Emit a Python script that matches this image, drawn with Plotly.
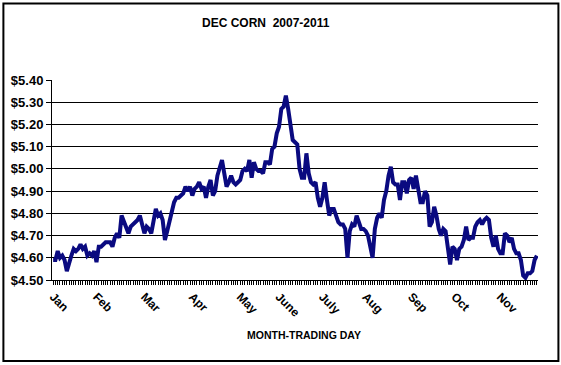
import plotly.graph_objects as go

# Daily settlement prices (USD/bu)
prices_jan_apr = [4.59, 4.59, 4.63, 4.60, 4.61, 4.59, 4.54, 4.58, 4.61, 4.64, 4.63, 4.64, 4.66, 4.64,
                  4.65, 4.61, 4.62, 4.61, 4.63, 4.58, 4.65, 4.65, 4.66, 4.67, 4.67, 4.67, 4.65, 4.69,
                  4.71, 4.69, 4.79, 4.76, 4.74, 4.71, 4.74, 4.75, 4.76, 4.77, 4.79, 4.75, 4.71, 4.74,
                  4.73, 4.71, 4.78, 4.82, 4.79, 4.80, 4.77, 4.68, 4.72, 4.76, 4.81, 4.85, 4.87, 4.87,
                  4.88, 4.89, 4.92, 4.90, 4.92, 4.88, 4.91, 4.92, 4.94, 4.91, 4.92, 4.87, 4.92]
prices_may_aug = [4.95, 4.88, 4.90, 4.97, 5.01, 5.04, 4.98, 4.92, 4.94, 4.97, 4.94, 4.93, 4.94, 4.95,
                  4.99, 5.00, 4.99, 5.04, 4.96, 5.03, 5.00, 4.99, 4.99, 4.98, 5.03, 5.03, 5.02, 5.09,
                  5.10, 5.16, 5.19, 5.27, 5.28, 5.33, 5.27, 5.20, 5.13, 5.12, 5.11, 5.00, 4.96, 4.96,
                  5.07, 4.98, 4.94, 4.93, 4.94, 4.87, 4.83, 4.87, 4.94, 4.86, 4.79, 4.82, 4.82, 4.79,
                  4.76, 4.75, 4.75, 4.73, 4.60, 4.72, 4.75, 4.74, 4.79, 4.76, 4.73, 4.73]
prices_aug_nov = [4.72, 4.70, 4.64, 4.60, 4.73, 4.78, 4.80, 4.78, 4.86, 4.90, 4.97, 5.01, 4.94, 4.93,
                  4.93, 4.86, 4.94, 4.94, 4.89, 4.95, 4.96, 4.91, 4.97, 4.92, 4.85, 4.85, 4.90, 4.88,
                  4.74, 4.76, 4.83, 4.79, 4.73, 4.70, 4.73, 4.72, 4.65, 4.57, 4.65, 4.64, 4.59, 4.64,
                  4.65, 4.68, 4.74, 4.68, 4.69, 4.69, 4.74, 4.76, 4.77, 4.75, 4.77, 4.78, 4.77, 4.69,
                  4.65, 4.70, 4.64, 4.62, 4.62, 4.71, 4.70, 4.67, 4.69, 4.64, 4.62, 4.62, 4.59, 4.52,
                  4.51, 4.53, 4.53, 4.54, 4.59, 4.61]

prices = prices_jan_apr + prices_may_aug + prices_aug_nov
days = list(range(len(prices)))

month_labels = ["Jan", "Feb", "Mar", "Apr", "May", "June", "July", "Aug", "Sep", "Oct", "Nov"]
month_start_day = [0, 19, 40, 61, 82, 99, 118, 137, 157, 176, 196]

y_ticks = [4.50, 4.60, 4.70, 4.80, 4.90, 5.00, 5.10, 5.20, 5.30, 5.40]

FONT = "Arial, 'Liberation Sans', sans-serif"

fig = go.Figure()
fig.add_trace(go.Scatter(x=days, y=prices, mode="lines",
                         line=dict(color="#0a0a80", width=4), hoverinfo="skip"))

fig.update_layout(
    width=561, height=365,
    margin=dict(l=52, r=23, t=80, b=85),
    paper_bgcolor="white", plot_bgcolor="white",
    showlegend=False,
    font=dict(family=FONT, color="black"),
)

fig.update_xaxes(
    range=[-0.5, len(prices) - 0.5],
    tickmode="array", tickvals=month_start_day, ticktext=month_labels,
    tickangle=45, tickfont=dict(family=FONT, size=12, color="black", weight="bold"),
    ticks="outside", ticklen=4, tickcolor="black",
    minor=dict(dtick=1, tick0=0, ticks="outside", ticklen=4, tickcolor="black", showgrid=False),
    showline=True, linecolor="black", linewidth=1,
    showgrid=False, zeroline=False,
)
fig.update_yaxes(
    range=[4.50, 5.40],
    tickmode="array", tickvals=y_ticks, ticktext=[f"${v:.2f}" for v in y_ticks],
    tickfont=dict(family=FONT, size=13, color="black", weight="bold"),
    ticks="outside", ticklen=5, tickcolor="black",
    showline=True, linecolor="black", linewidth=1,
    showgrid=True, gridcolor="black", gridwidth=1, zeroline=False,
)

fig.add_annotation(text="<b>DEC CORN  2007-2011</b>", xref="paper", yref="paper",
                   x=0.44, y=1.285, xanchor="center", yanchor="middle", showarrow=False,
                   font=dict(family=FONT, size=12, color="black"))
fig.add_annotation(text="<b>MONTH-TRADING DAY</b>", xref="paper", yref="paper",
                   x=0.5185, y=-0.275, xanchor="center", yanchor="middle", showarrow=False,
                   font=dict(family=FONT, size=10.5, color="black"))

fig.add_shape(type="rect", xref="paper", yref="paper",
              x0=-0.1, x1=1.042, y0=-0.405, y1=1.383,
              line=dict(color="black", width=2), fillcolor="rgba(0,0,0,0)", layer="above")

fig.write_html("out.html", config={"displayModeBar": False},
               post_script="document.body.style.margin='0';")
